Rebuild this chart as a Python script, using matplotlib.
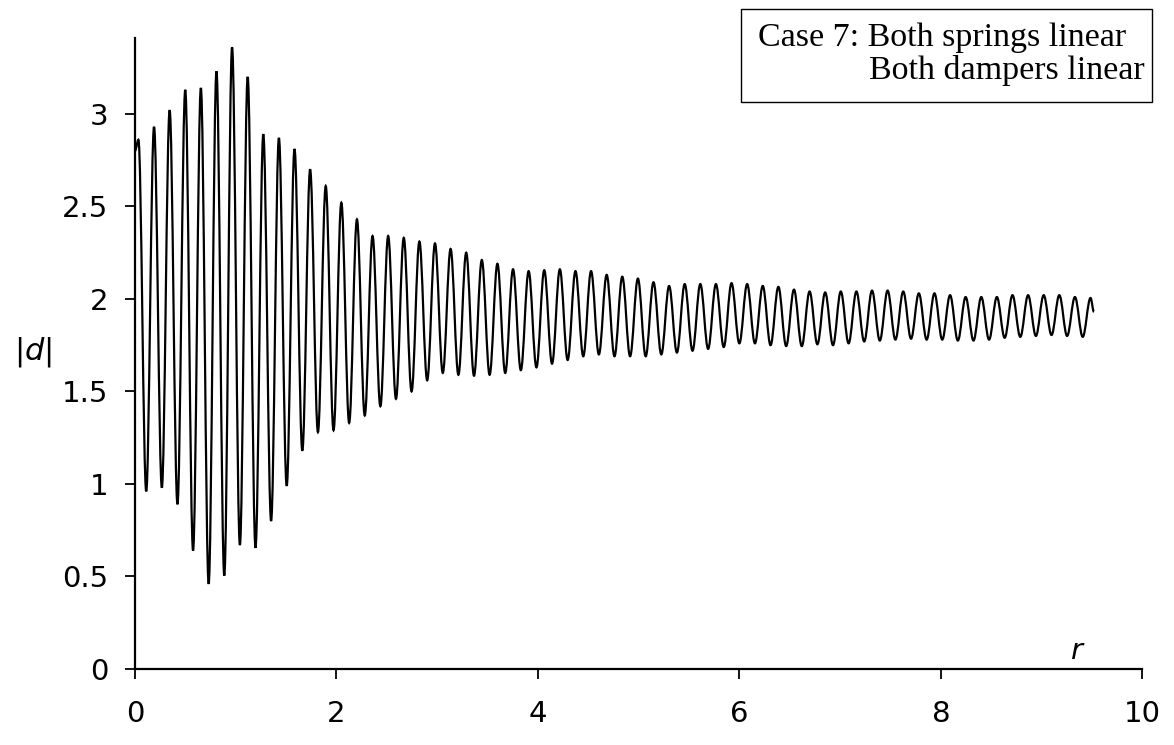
import numpy as np
import matplotlib.pyplot as plt
from matplotlib.path import Path
from matplotlib.patches import PathPatch, Rectangle

# |d| at each crest and each dip of the response, left to right
peaks = [2.86, 2.93, 3.02, 3.13, 3.14, 3.23, 3.36, 3.20, 2.89, 2.87,
         2.81, 2.70, 2.61, 2.52, 2.43, 2.34, 2.34, 2.33, 2.31, 2.30,
         2.27, 2.25, 2.21, 2.19, 2.16, 2.15, 2.155, 2.16, 2.15, 2.15,
         2.13, 2.12, 2.11, 2.09, 2.07, 2.08, 2.08, 2.08, 2.085, 2.08,
         2.07, 2.065, 2.05, 2.04, 2.035, 2.04, 2.04, 2.045, 2.045, 2.04,
         2.03, 2.03, 2.02, 2.01, 2.01, 2.01, 2.02, 2.02, 2.02, 2.02,
         2.01, 2.005]
troughs = [0.96, 0.98, 0.89, 0.64, 0.46, 0.505, 0.67, 0.655, 0.80, 0.99,
           1.18, 1.28, 1.29, 1.33, 1.37, 1.42, 1.46, 1.50, 1.56, 1.60,
           1.59, 1.585, 1.59, 1.60, 1.615, 1.63, 1.65, 1.67, 1.69, 1.70,
           1.69, 1.69, 1.69, 1.70, 1.71, 1.72, 1.73, 1.74, 1.76, 1.76,
           1.75, 1.745, 1.745, 1.755, 1.75, 1.76, 1.77, 1.775, 1.78, 1.785,
           1.78, 1.78, 1.775, 1.775, 1.78, 1.79, 1.795, 1.80, 1.805, 1.80,
           1.795]

# r of first and last crest (crests are evenly spaced), plus the run's ends
r_first_peak, r_last_peak = 0.034, 9.486
r_start, d_start = 0.0, 2.80
r_end, d_end = 9.52, 1.93

xticks = [0, 2, 4, 6, 8, 10]
yticks = [0, 0.5, 1, 1.5, 2, 2.5, 3]

# order the turning points
r_peaks = np.linspace(r_first_peak, r_last_peak, len(peaks))
r_troughs = (r_peaks[:-1] + r_peaks[1:]) / 2
rs = [r_start]
ds = [d_start]
for i in range(len(peaks)):
    rs.append(r_peaks[i]); ds.append(peaks[i])
    if i < len(troughs):
        rs.append(r_troughs[i]); ds.append(troughs[i])
rs.append(r_end); ds.append(d_end)

# smooth curve through the turning points (flat tangent at each one)
verts = [(rs[0], ds[0])]
codes = [Path.MOVETO]
c = 0.3642
for k in range(len(rs) - 1):
    dx = rs[k + 1] - rs[k]
    verts += [(rs[k] + c * dx, ds[k]), (rs[k + 1] - c * dx, ds[k + 1]), (rs[k + 1], ds[k + 1])]
    codes += [Path.CURVE4] * 3

fig = plt.figure(figsize=(11.74, 7.45), dpi=100)
ax = fig.add_axes([0.115, 0.102, 0.858, 0.847])
ax.add_patch(PathPatch(Path(verts, codes), facecolor='none', edgecolor='black', lw=1.6))

ax.set_xlim(0, 10)
ax.set_ylim(0, 3.41)
ax.set_xticks(xticks)
ax.set_yticks(yticks)
ax.set_xticklabels([str(t) for t in xticks])
ax.set_yticklabels(['%g' % t for t in yticks])
for s in ['top', 'right']:
    ax.spines[s].set_visible(False)
for s in ['left', 'bottom']:
    ax.spines[s].set_linewidth(1.6)
ax.tick_params(axis='x', direction='out', length=7, width=1.3, labelsize=21, pad=15)
ax.tick_params(axis='y', direction='out', length=7, width=1.3, labelsize=21, pad=12)

# axis names
fig.text(0.028, 1 - 352 / 745, r'|$\mathit{d}$|', fontsize=22, ha='center', va='center')
fig.text(0.917, 1 - 651 / 745, 'r', fontsize=21, style='italic', ha='center', va='center')

# case box
fig.patches.append(Rectangle((741 / 1174, 1 - 102 / 745), 411 / 1174, 93 / 745,
                             transform=fig.transFigure, fill=False, edgecolor='black', lw=1.0))
fig.text(758 / 1174, 1 - 38 / 745, 'Case 7: Both springs linear', fontsize=24.5,
         family='Liberation Serif', ha='left', va='center')
fig.text(869 / 1174, 1 - 70 / 745, 'Both dampers linear', fontsize=24.5,
         family='Liberation Serif', ha='left', va='center')

fig.savefig('out.png', dpi=100)
